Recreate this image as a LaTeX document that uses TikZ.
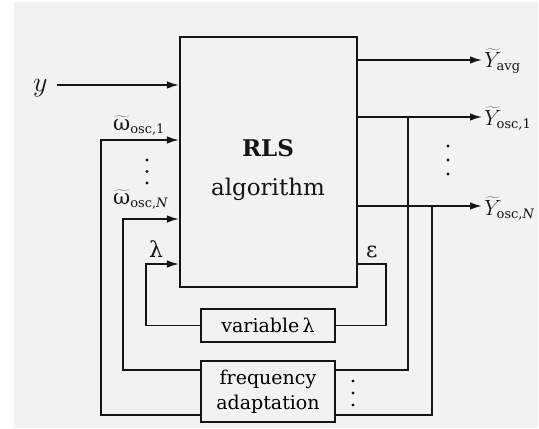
\RequirePackage{fix-cm}
\documentclass[tikz,border=0pt]{standalone}
\usepackage{fontspec}
\setmainfont{DejaVu Serif}
\usetikzlibrary{arrows.meta}
\definecolor{bgc}{HTML}{F2F2F2}
\definecolor{ink}{HTML}{151515}
\newcommand{\subtxt}[1]{\hbox{\fontsize{13}{13}\selectfont #1}}
\tikzset{
  box/.style={draw=ink, line width=1.4pt, inner sep=0pt, align=center},
  wire/.style={draw=ink, line width=1.5pt},
  arr/.style={wire, -{Latex[length=12pt,width=7.5pt]}},
  lab/.style={inner sep=0pt, anchor=base west, text=ink},
  dotmark/.style={fill=ink},
}
\begin{document}
\begin{tikzpicture}[x=1pt,y=-1pt]
\useasboundingbox (0,0) rectangle (539,429);
\fill[bgc] (14,2) rectangle (538,428);

% blocks
\node[box, line width=2.2pt, minimum width=177pt, minimum height=250pt] (rls) at (268.5,162) {};
\node[inner sep=0pt, align=center, text=ink, font=\fontsize{23}{39}\selectfont] (rlstext) at (268,170) {\textbf{RLS}\\algorithm};
\node[box, minimum width=134pt, minimum height=33pt, font=\fontsize{19}{25}\selectfont] (var) at (268,325.5) {variable\,λ};
\node[box, minimum width=134pt, minimum height=61pt, font=\fontsize{19}{25}\selectfont] (freq) at (268,391.5) {frequency\\adaptation};

% input y
\coordinate (yin) at (57,85);
\node[lab, font=\fontsize{28}{28}\selectfont] (ylab) at (33,91) {$y$};
\draw[arr] (yin) -- (yin -| rls.west);

% omega_osc,1
\coordinate (p1) at (101,140);
\draw[arr] (freq.west |- 0,415) -| (p1) -- (p1 -| rls.west);
\node[lab, font=\fontsize{21}{21}\selectfont] (w1lab) at (113,130) {$\widetilde{\hbox{ω}}_{\subtxt{osc,1}}$};

% omega_osc,N
\coordinate (pN) at (123,219);
\draw[arr] (freq.west |- 0,370) -| (pN) -- (pN -| rls.west);
\node[lab, font=\fontsize{21}{21}\selectfont] (wNlab) at (113,204) {$\widetilde{\hbox{ω}}_{\subtxt{osc,\textit{N}}}$};

% lambda
\coordinate (pl) at (146,264);
\draw[arr] (var.west) -| (pl) -- (pl -| rls.west);
\node[lab, font=\fontsize{22}{22}\selectfont] (llab) at (149,257) {λ};

% epsilon
\coordinate (pe) at (386,264);
\draw[wire] (rls.east |- pe) -- (pe) |- (var.east);
\node[lab, font=\fontsize{22}{22}\selectfont] (elab) at (366,257) {ε};

% outputs
\coordinate (ya) at (482,60);
\coordinate (y1) at (482,117);
\coordinate (yN) at (482,206);
\draw[arr] (rls.east |- ya) -- (ya);
\draw[arr] (rls.east |- y1) -- (y1);
\draw[arr] (rls.east |- yN) -- (yN);
\node[lab, font=\fontsize{22}{22}\selectfont] (yalab) at (484,67) {$\widetilde{Y}_{\subtxt{avg}}$};
\node[lab, font=\fontsize{22}{22}\selectfont] (y1lab) at (484,125) {$\widetilde{Y}_{\subtxt{osc,1}}$};
\node[lab, font=\fontsize{22}{22}\selectfont] (yNlab) at (484,215) {$\widetilde{Y}_{\subtxt{osc,\textit{N}}}$};

% feedback to frequency adaptation
\coordinate (b1) at (408,117);
\coordinate (bN) at (432,206);
\draw[wire] (b1) |- (freq.east |- 0,370);
\draw[wire] (bN) |- (freq.east |- 0,415);

% vertical ellipses
\foreach \yy in {160,171.5,183} \fill[dotmark] (147,\yy) circle (1.6pt);
\foreach \yy in {146,160,174} \fill[dotmark] (448,\yy) circle (1.6pt);
\foreach \yy in {381,393,405} \fill[dotmark] (353,\yy) circle (1.6pt);
\end{tikzpicture}
\end{document}
